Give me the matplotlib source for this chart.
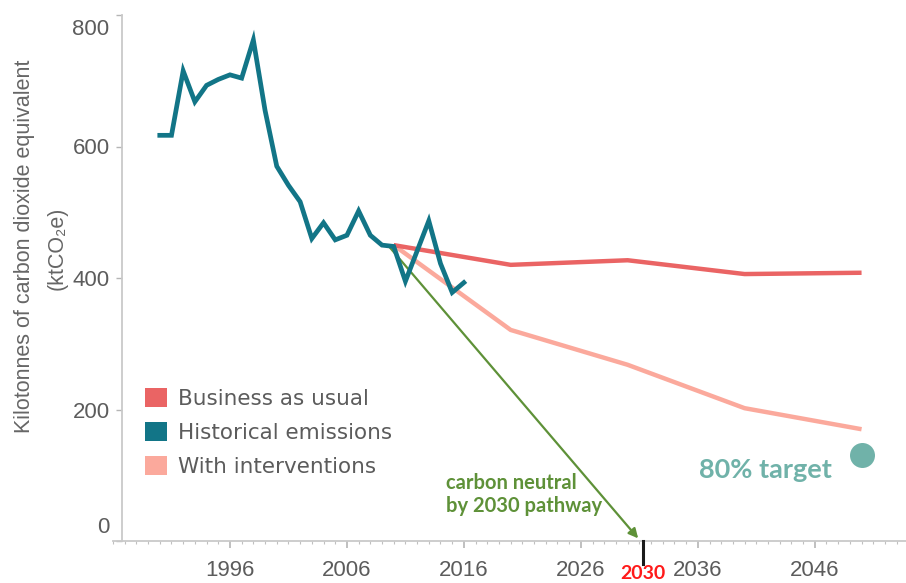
import matplotlib
matplotlib.use("Agg")
import matplotlib.pyplot as plt
import matplotlib.transforms as mtransforms
from matplotlib.patches import Patch
from matplotlib.ticker import MultipleLocator, FixedLocator

# ---------------- data ----------------
hist_years = [1990, 1991, 1992, 1993, 1994, 1995, 1996, 1997, 1998, 1999,
              2000, 2001, 2002, 2003, 2004, 2005, 2006, 2007, 2008, 2009,
              2010, 2011, 2012, 2013, 2014, 2015, 2016]
hist_values = [617, 617, 715, 668, 693, 702, 709, 704, 762, 655,
               570, 541, 516, 460, 484, 458, 465, 502, 465, 450,
               448, 395, 441, 487, 422, 378, 393]

proj_years = [2010, 2020, 2030, 2040, 2050]
bau_values = [450, 420, 427, 406, 408]
interv_values = [450, 321, 268, 202, 170]

pathway_years = [2009.5, 2030.9]
pathway_values = [450, 4]

target_year = 2050
target_value = 131

xtick_years = [1996, 2006, 2016, 2026, 2036, 2046]
ytick_values = [0, 200, 400, 600, 800]
marker_year = 2031.3
marker_label = "2030"

legend_labels = ["Business as usual", "Historical emissions", "With interventions"]

# ---------------- style ----------------
C_HIST = "#127587"
C_BAU = "#ea6464"
C_INT = "#fba99c"
C_GREEN = "#5e9138"
C_TARGET = "#70b2a9"
C_TEXT = "#5c5c5c"
C_AXIS = "#c9c9c9"

W, H = 906, 583
DPI = 100
fig = plt.figure(figsize=(W / DPI, H / DPI), dpi=DPI)
ax = fig.add_axes([113 / W, 1 - 541 / H, (906 - 113) / W, (541 - 15) / H])

ax.plot(proj_years, interv_values, color=C_INT, lw=3.2, solid_capstyle="butt", zorder=2)
ax.plot(proj_years, bau_values, color=C_BAU, lw=3.2, solid_capstyle="butt", zorder=3)
ax.annotate("", xy=(pathway_years[1], pathway_values[1]),
            xytext=(pathway_years[0], pathway_values[0]),
            arrowprops=dict(arrowstyle="-|>", color=C_GREEN, lw=1.6,
                            mutation_scale=14, shrinkA=0, shrinkB=0),
            zorder=4)
ax.plot(hist_years, hist_values, color=C_HIST, lw=3.4, solid_joinstyle="miter",
        zorder=5)
ax.plot([target_year], [target_value], "o", color=C_TARGET, ms=18, mec="none",
        zorder=5, clip_on=False)

ax.set_xlim(1986.0, 2053.8)
ax.set_ylim(0, 800)

for s in ["top", "right"]:
    ax.spines[s].set_visible(False)
ax.spines["left"].set_position(("data", 1986.77))
ax.spines["left"].set_color(C_AXIS)
ax.spines["bottom"].set_color(C_AXIS)
ax.spines["left"].set_linewidth(1.3)
ax.spines["bottom"].set_linewidth(1.3)

ax.xaxis.set_major_locator(FixedLocator(xtick_years))
ax.xaxis.set_minor_locator(MultipleLocator(1))
ax.set_xticklabels([str(y) for y in xtick_years])
ax.yaxis.set_major_locator(FixedLocator(ytick_values))
ax.set_yticklabels([str(v) for v in ytick_values])

ax.tick_params(axis="x", which="major", length=5, width=1.2, color="#b5b5b5",
               pad=8.5, labelsize=16, labelcolor=C_TEXT)
ax.tick_params(axis="x", which="minor", length=2.5, width=0.8, color="#c0c0c0")
ax.tick_params(axis="y", which="major", length=4, width=1.0, color="#b5b5b5",
               pad=5, labelsize=16, labelcolor=C_TEXT)
for lab in ax.get_xticklabels() + ax.get_yticklabels():
    lab.set_fontfamily("Liberation Sans")

# end y labels shifted inward like the reference
ylabs = ax.get_yticklabels()
ylabs[0].set_transform(ylabs[0].get_transform() +
                       mtransforms.ScaledTranslation(0, 16 / DPI, fig.dpi_scale_trans))
ylabs[-1].set_transform(ylabs[-1].get_transform() +
                        mtransforms.ScaledTranslation(0, -12 / DPI, fig.dpi_scale_trans))

# y axis title (two lines)
fig.text(25 / W, 1 - 246 / H, "Kilotonnes of carbon dioxide equivalent",
         rotation=90, ha="center", va="center", fontsize=15.5, color="#666666",
         family=["Liberation Sans", "DejaVu Sans"])
fig.text(57 / W, 1 - 248 / H, "(ktCO\u2082e)",
         rotation=90, ha="center", va="center", fontsize=15.5, color="#666666",
         family=["Liberation Sans", "DejaVu Sans"])

# 2030 marker
blend = mtransforms.blended_transform_factory(ax.transData, ax.transAxes)
ax.plot([marker_year, marker_year], [0, -23 / 526], transform=blend,
        color="#1a1a1a", lw=2.2, clip_on=False, zorder=6)
ax.text(marker_year, -41 / 526, marker_label, transform=blend, ha="center",
        va="bottom", fontsize=14, fontweight="bold", color="#ff1a1a",
        family="Lato", clip_on=False)

# annotations
ax.text(2014.5, 71, "carbon neutral\nby 2030 pathway", ha="left", va="center",
        fontsize=14.5, fontweight="bold", color=C_GREEN, family="Lato",
        linespacing=1.2)
ax.text(2047.45, 108, "80% target", ha="right", va="center", fontsize=19.5,
        fontweight="bold", color=C_TARGET, family="Lato")

# legend
handles = [Patch(facecolor=C_BAU, edgecolor="none"),
           Patch(facecolor=C_HIST, edgecolor="none"),
           Patch(facecolor=C_INT, edgecolor="none")]
leg = ax.legend(handles, legend_labels, loc="upper left",
                bbox_to_anchor=(145 / W, 1 - 388 / H), bbox_transform=fig.transFigure,
                frameon=False, handlelength=1.0, handleheight=1.0,
                handletextpad=0.55, labelspacing=0.6, borderpad=0,
                borderaxespad=0, labelcolor=C_TEXT,
                prop={"family": "DejaVu Sans", "size": 15.5})

fig.savefig("out.png", dpi=DPI)
